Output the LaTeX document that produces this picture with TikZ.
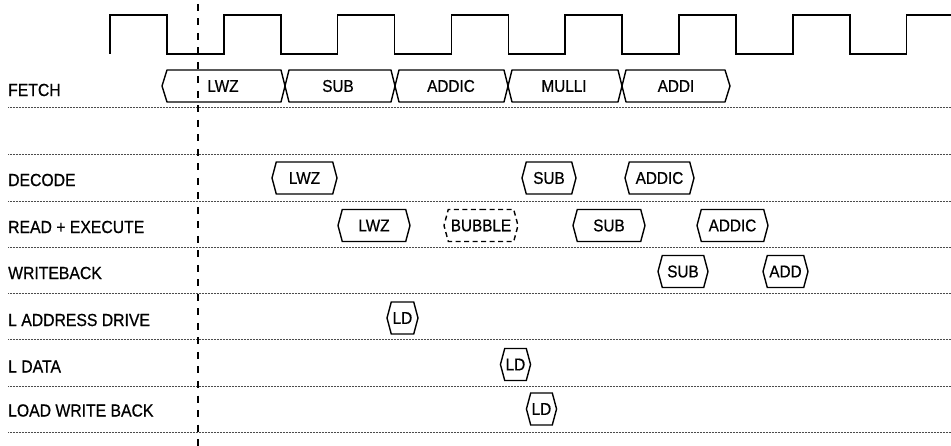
\documentclass[tikz,border=0pt]{standalone}
\usepackage{fontspec}
\setmainfont{Liberation Sans}[FakeStretch=0.9, FakeBold=0.6]
\usetikzlibrary{shapes.symbols}

\tikzset{
  rowline/.style={draw=black!70, line width=0.8pt, dash pattern=on 1pt off 0.5pt},
  clockline/.style={line width=1.5pt, line join=miter},
  busline/.style={line width=1.4pt, line join=round},
  markline/.style={line width=2pt, dash pattern=on 7pt off 7.5pt},
  stagebox/.style={signal, signal to=west and east, signal pointer angle=150,
    draw, line width=1.4pt, minimum height=32pt, inner xsep=1pt,
    font=\fontsize{17}{20}\selectfont},
  bubblebox/.style={stagebox, dash pattern=on 5pt off 3.5pt},
  rowlabel/.style={anchor=west, inner sep=0pt, font=\fontsize{17.5}{20}\selectfont},
  slottext/.style={inner sep=0pt, font=\fontsize{17}{20}\selectfont}
}

\begin{document}
\begin{tikzpicture}[x=1pt,y=-1pt]
\useasboundingbox (0,0) rectangle (951,446);

% row separators
\foreach \y in {107,154,201,247,293,339,386,432}
  \draw[rowline] (8,\y) -- (951,\y);

% row labels
\node[rowlabel] (fetch)  at (8,90)    {FETCH};
\node[rowlabel] (decode) at (8,180)   {DECODE};
\node[rowlabel] (exec)   at (8,227)   {READ + EXECUTE};
\node[rowlabel] (wback)  at (8,273)   {WRITEBACK};
\node[rowlabel] (laddr)  at (8,320)   {L ADDRESS DRIVE};
\node[rowlabel] (ldata)  at (8,366.5) {L DATA};
\node[rowlabel] (lwback) at (8,410.5) {LOAD WRITE BACK};

% clock
\draw[clockline] (110,54) foreach \k in {1,...,7} {
    -- ++(0,-39) -- ++(57,0) -- ++(0,39) -- ++(56.8,0) }
  -- ++(0,-39) -- (951,15);

% fetch bus
\draw[busline] (162,86) -- (167,70) -- (281,70) -- (289,102) -- (391,102)
  -- (399,70) -- (504,70) -- (512,102) -- (618,102) -- (626,70)
  -- (725,70) -- (730,86);
\draw[busline] (162,86) -- (167,102) -- (281,102) -- (289,70) -- (391,70)
  -- (399,102) -- (504,102) -- (512,70) -- (618,70) -- (626,102)
  -- (725,102) -- (730,86);
\node[slottext] (fLWZ)   at (223,86) {LWZ};
\node[slottext] (fSUB)   at (338,86) {SUB};
\node[slottext] (fADDIC) at (451,86) {ADDIC};
\node[slottext] (fMULLI) at (564,86) {MULLI};
\node[slottext] (fADDI)  at (676,86) {ADDI};

% decode
\node[stagebox, minimum width=65pt] (dLWZ)   at (304.5,178) {LWZ};
\node[stagebox, minimum width=54pt] (dSUB)   at (549,178)   {SUB};
\node[stagebox, minimum width=69pt] (dADDIC) at (659.5,178) {ADDIC};

% read + execute
\node[stagebox, minimum width=72pt]  (eLWZ)    at (374,225.5)   {LWZ};
\node[bubblebox, minimum width=74pt] (eBUBBLE) at (481,225.5)   {BUBBLE};
\node[stagebox, minimum width=72pt]  (eSUB)    at (609,225.5)   {SUB};
\node[stagebox, minimum width=71pt]  (eADDIC)  at (732.5,225.5) {ADDIC};

% writeback
\node[stagebox, minimum width=50pt] (wSUB) at (683,271.5)   {SUB};
\node[stagebox, minimum width=45pt] (wADD) at (785.5,271.5) {ADD};

% load path
\node[stagebox, minimum width=31pt] (aLD) at (402.5,318)   {LD};
\node[stagebox, minimum width=29pt] (lLD) at (515.5,364.5) {LD};
\node[stagebox, minimum width=29pt] (bLD) at (541.5,409)   {LD};

% sampling point
\coordinate (markT) at (198,4);
\coordinate (markB) at (198,446);
\draw[markline] (markT) -- (markB);
\end{tikzpicture}
\end{document}
